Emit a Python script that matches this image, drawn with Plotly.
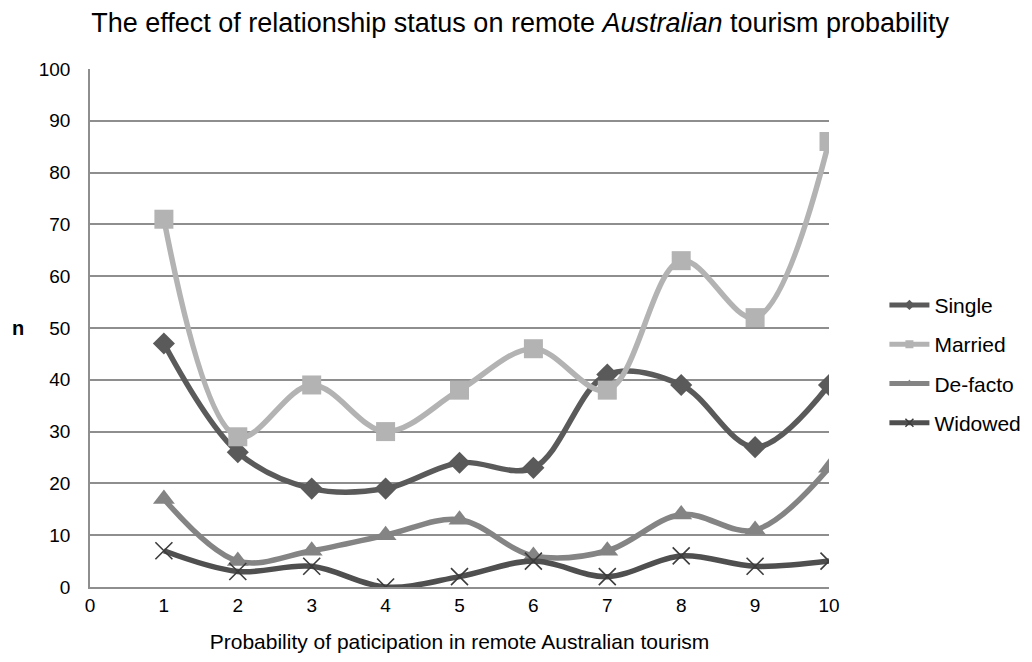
import plotly.graph_objects as go

# Probability score (1-10) and counts for each relationship status
scores = [1, 2, 3, 4, 5, 6, 7, 8, 9, 10]
single = [47, 26, 19, 19, 24, 23, 41, 39, 27, 39]
married = [71, 29, 39, 30, 38, 46, 38, 63, 52, 86]
de_facto = [17, 5, 7, 10, 13, 6, 7, 14, 11, 23]
widowed = [7, 3, 4, 0, 2, 5, 2, 6, 4, 5]

x_ticks = list(range(0, 11))
y_ticks = list(range(0, 101, 10))

series = [
    ("Single", single, "#5a5a5a", "diamond", 17),
    ("Married", married, "#b3b3b3", "square", 19),
    ("De-facto", de_facto, "#848484", "triangle-up", 19),
    ("Widowed", widowed, "#4f4f4f", "x-thin", 17),
]

fig = go.Figure()
for name, vals, color, symbol, size in series:
    marker = dict(symbol=symbol, size=size, color=color)
    small = dict(symbol=symbol, size=8, color=color)
    if symbol == "x-thin":
        marker["line"] = dict(color="#3c3c3c", width=1.6)
        small["line"] = dict(color="#3c3c3c", width=1.5)
    fig.add_trace(go.Scatter(
        x=scores, y=vals, name=name, mode="lines+markers",
        line=dict(color=color, width=5.5, shape="spline", smoothing=1),
        marker=marker, showlegend=False,
    ))
    # legend entry with a compact marker
    fig.add_trace(go.Scatter(
        x=[None], y=[None], name=name, mode="lines+markers",
        line=dict(color=color, width=5), marker=small,
        legendgroup=name, showlegend=True,
    ))

font = "Liberation Sans, Arial, sans-serif"
grid = "#8e8e8e"
fig.update_layout(
    width=1032, height=662,
    margin=dict(l=90, r=203, t=69, b=75, autoexpand=False),
    paper_bgcolor="white", plot_bgcolor="white",
    font=dict(family=font, size=19, color="black"),
    title=dict(
        text="The effect of relationship status on remote <i>Australian</i> tourism probability",
        x=0.504, xanchor="center", xref="container", y=0.966, yanchor="middle",
        font=dict(size=27, family=font, color="black"),
    ),
    xaxis=dict(
        range=[0, 10], tickvals=x_ticks, showgrid=False, zeroline=False,
        showline=True, linecolor=grid, linewidth=1.5, ticks="",
        tickfont=dict(size=19), ticklabelstandoff=0,
        title=dict(text="Probability of paticipation in remote Australian tourism",
                   font=dict(size=21), standoff=20),
    ),
    yaxis=dict(
        range=[0, 100], tickvals=y_ticks, showgrid=True, gridcolor=grid,
        gridwidth=1.5, zeroline=False, showline=True, linecolor=grid,
        linewidth=1.5, ticks="", tickfont=dict(size=19), ticklabelstandoff=14,
    ),
    legend=dict(
        x=1.075, xanchor="left", y=0.43, yanchor="middle",
        font=dict(size=21), tracegroupgap=9, bgcolor="rgba(0,0,0,0)",
        itemwidth=40,
    ),
    annotations=[dict(
        text="<b>n</b>", xref="paper", yref="paper", x=-0.097, y=0.5,
        xanchor="center", yanchor="middle", showarrow=False,
        font=dict(size=20, family=font),
    )],
)

fig.write_html("out.html")
